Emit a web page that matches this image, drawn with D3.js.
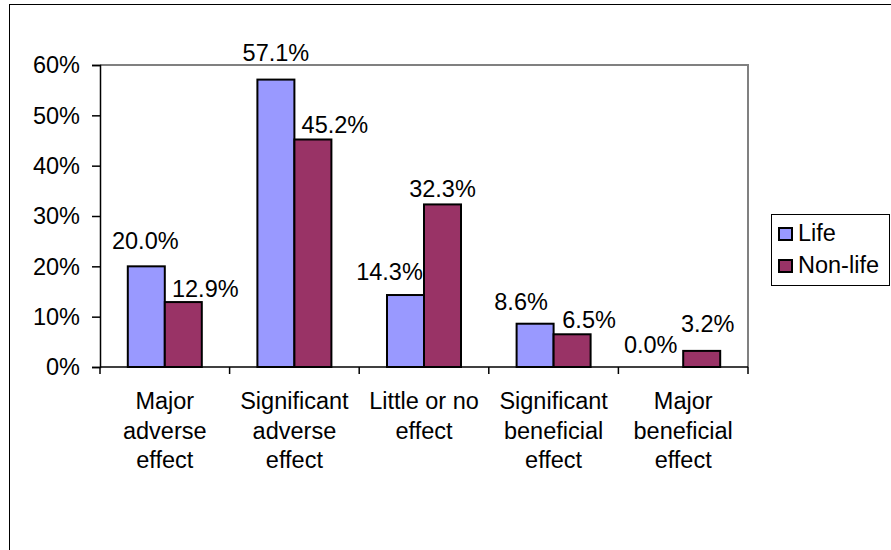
<!DOCTYPE html>
<html>
<head>
<meta charset="utf-8">
<script src="https://cdn.jsdelivr.net/npm/d3@7"></script>
<style>
  html, body { margin: 0; padding: 0; background: #fff; }
  svg { display: block; font-family: "Liberation Sans", Arial, sans-serif; }
</style>
</head>
<body>
<svg id="chart" width="891" height="550"></svg>
<script>
// Survey responses by effect, share of respondents
const categories = [
  ["Major", "adverse", "effect"],
  ["Significant", "adverse", "effect"],
  ["Little or no", "effect"],
  ["Significant", "beneficial", "effect"],
  ["Major", "beneficial", "effect"]
];
const seriesNames = ["Life", "Non-life"];
const lifeValues = [20.0, 57.1, 14.3, 8.6, 0.0];
const nonLifeValues = [12.9, 45.2, 32.3, 6.5, 3.2];
const yTicks = [0, 10, 20, 30, 40, 50, 60];

// Label nudges (px) from the default spot centred above each bar
const lifeLabelNudge = [[-1, -17], [0, -19], [-16, -15], [-14, -14], [-14, -14]];
const nonLifeLabelNudge = [[22, -5], [22, -6], [0, -7], [17, -6], [6, -19]];

const colors = ["#9999FF", "#993366"];
const fontSize = 23.5;

const svg = d3.select("#chart");

// Chart area frame
svg.append("rect")
  .attr("x", 9.5).attr("y", 4.5)
  .attr("width", 900).attr("height", 560)
  .attr("fill", "#fff").attr("stroke", "#000").attr("stroke-width", 1);

const plot = { left: 100, right: 748, top: 65, bottom: 367 };

const keys = categories.map((c, i) => i);
const x0 = d3.scaleBand()
  .domain(keys)
  .range([plot.left, plot.right])
  .paddingInner(0.429)
  .paddingOuter(0.2145);
const x1 = d3.scaleBand()
  .domain(seriesNames)
  .range([0, x0.bandwidth()]);
const y = d3.scaleLinear().domain([0, 60]).range([plot.bottom, plot.top]);

// Plot area border (top and right)
svg.append("path")
  .attr("d", `M${plot.left},${plot.top}H${plot.right}V${plot.bottom}`)
  .attr("fill", "none").attr("stroke", "#808080").attr("stroke-width", 2);

const series = [
  { name: seriesNames[0], values: lifeValues, nudge: lifeLabelNudge, color: colors[0] },
  { name: seriesNames[1], values: nonLifeValues, nudge: nonLifeLabelNudge, color: colors[1] }
];

const bars = svg.append("g");
series.forEach(s => {
  s.values.forEach((v, i) => {
    if (v > 0) {
      bars.append("rect")
        .attr("x", x0(i) + x1(s.name))
        .attr("y", y(v))
        .attr("width", x1.bandwidth())
        .attr("height", y(0) - y(v))
        .attr("fill", s.color)
        .attr("stroke", "#000")
        .attr("stroke-width", 2);
    }
  });
});

// Y axis
const yAxis = d3.axisLeft(y)
  .tickValues(yTicks)
  .tickFormat(d => d + "%")
  .tickSize(8)
  .tickPadding(12);
const gy = svg.append("g")
  .attr("transform", `translate(${plot.left},0)`)
  .call(yAxis);
gy.select(".domain").attr("stroke", "#000").attr("stroke-width", 1.5);
gy.selectAll(".tick line").attr("stroke", "#000").attr("stroke-width", 1.5);
gy.selectAll(".tick text")
  .attr("font-size", fontSize)
  .attr("font-family", "Liberation Sans, Arial, sans-serif")
  .attr("fill", "#000")
  .attr("dy", "0.33em");

// X axis with ticks between categories
const boundaries = d3.range(categories.length + 1).map(i => plot.left + i * x0.step());
const gx = svg.append("g");
gx.append("line")
  .attr("x1", plot.left).attr("x2", plot.right)
  .attr("y1", plot.bottom).attr("y2", plot.bottom)
  .attr("stroke", "#000").attr("stroke-width", 1.5);
gx.selectAll("line.tk").data(boundaries).join("line")
  .attr("class", "tk")
  .attr("x1", d => d).attr("x2", d => d)
  .attr("y1", plot.bottom).attr("y2", plot.bottom + 7)
  .attr("stroke", "#000").attr("stroke-width", 1.5);

// Category labels
categories.forEach((lines, i) => {
  const cx = x0(i) + x0.bandwidth() / 2;
  const t = svg.append("text")
    .attr("x", cx)
    .attr("y", 409)
    .attr("text-anchor", "middle")
    .attr("font-size", fontSize)
    .attr("fill", "#000");
  lines.forEach((ln, j) => {
    t.append("tspan").attr("x", cx).attr("dy", j === 0 ? 0 : 29.6).text(ln);
  });
});

// Value labels
series.forEach(s => {
  s.values.forEach((v, i) => {
    const cx = x0(i) + x1(s.name) + x1.bandwidth() / 2;
    svg.append("text")
      .attr("x", cx + s.nudge[i][0])
      .attr("y", y(v) + s.nudge[i][1])
      .attr("text-anchor", "middle")
      .attr("font-size", fontSize)
      .attr("fill", "#000")
      .text(v.toFixed(1) + "%");
  });
});

// Legend
const lg = svg.append("g");
lg.append("rect")
  .attr("x", 771.5).attr("y", 214.5)
  .attr("width", 118).attr("height", 71)
  .attr("fill", "#fff").attr("stroke", "#000").attr("stroke-width", 1);
series.forEach((s, i) => {
  const yy = 228 + i * 32;
  lg.append("rect")
    .attr("x", 779).attr("y", yy)
    .attr("width", 13).attr("height", 12)
    .attr("fill", s.color).attr("stroke", "#000").attr("stroke-width", 2);
  lg.append("text")
    .attr("x", 798).attr("y", yy + 12.5)
    .attr("font-size", fontSize)
    .attr("fill", "#000")
    .text(s.name);
});
</script>
</body>
</html>
